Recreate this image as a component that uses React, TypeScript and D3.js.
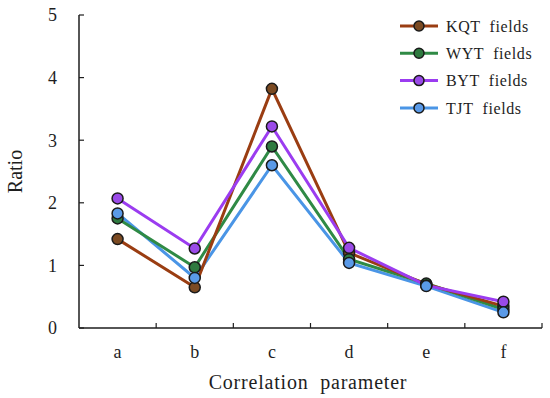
import * as d3 from "d3";
import { useRef, useEffect } from "react";

const categories = ["a", "b", "c", "d", "e", "f"];
const kqt = [1.42, 0.65, 3.82, 1.2, 0.7, 0.35];
const wyt = [1.75, 0.97, 2.9, 1.1, 0.71, 0.3];
const byt = [2.07, 1.27, 3.22, 1.28, 0.68, 0.42];
const tjt = [1.83, 0.8, 2.6, 1.04, 0.67, 0.25];
const yTicks = [0, 1, 2, 3, 4, 5];

const series = [
  { name: "KQT  fields", values: kqt, line: "#9a3d12", fill: "#7b4a22" },
  { name: "WYT  fields", values: wyt, line: "#2f8a45", fill: "#2f7a40" },
  { name: "BYT  fields", values: byt, line: "#9b3cf0", fill: "#9a4ae8" },
  { name: "TJT  fields", values: tjt, line: "#4a95e6", fill: "#5a9ae8" },
];

export default function App() {
  const svgRef = useRef<SVGSVGElement>(null);
  const width = 550;
  const height = 398;
  const marginLeft = 79;
  const marginRight = 8;
  const marginTop = 15;
  const marginBottom = 70;

  useEffect(() => {
    const svg = d3.select(svgRef.current);
    svg.selectAll("*").remove();

    const x = d3
      .scaleBand()
      .domain(categories)
      .range([marginLeft, width - marginRight]);
    const y = d3
      .scaleLinear()
      .domain([0, 5])
      .range([height - marginBottom, marginTop]);

    const font = "Liberation Serif";
    const ink = "#1e1e1e";

    // axes
    const gx = svg
      .append("g")
      .attr("transform", `translate(0,${height - marginBottom})`);
    gx.append("line")
      .attr("x1", marginLeft)
      .attr("x2", width - marginRight)
      .attr("stroke", ink)
      .attr("stroke-width", 1.5);
    const bounds = categories.map((c) => x(c)!).concat([width - marginRight]);
    gx.selectAll(".xt")
      .data(bounds.slice(1))
      .join("line")
      .attr("x1", (d) => d)
      .attr("x2", (d) => d)
      .attr("y1", 0)
      .attr("y2", -5)
      .attr("stroke", ink)
      .attr("stroke-width", 1.2);
    gx.selectAll(".xl")
      .data(categories)
      .join("text")
      .attr("x", (d) => x(d)! + x.bandwidth() / 2)
      .attr("y", 30)
      .attr("text-anchor", "middle")
      .attr("font-family", font)
      .attr("font-size", 18)
      .attr("fill", ink)
      .text((d) => d);

    const gy = svg.append("g").attr("transform", `translate(${marginLeft},0)`);
    gy.append("line")
      .attr("y1", y(0))
      .attr("y2", y(5))
      .attr("stroke", ink)
      .attr("stroke-width", 1.5);
    gy.selectAll(".yt")
      .data(yTicks)
      .join("line")
      .attr("y1", (d) => y(d))
      .attr("y2", (d) => y(d))
      .attr("x1", 0)
      .attr("x2", 5)
      .attr("stroke", ink)
      .attr("stroke-width", 1.2);
    gy.selectAll(".yl")
      .data(yTicks)
      .join("text")
      .attr("x", -22)
      .attr("y", (d) => y(d))
      .attr("dy", "0.35em")
      .attr("text-anchor", "end")
      .attr("font-family", font)
      .attr("font-size", 18)
      .attr("fill", ink)
      .text((d) => d);

    svg
      .append("text")
      .attr("transform", `translate(22,${(y(0) + y(5)) / 2}) rotate(-90)`)
      .attr("text-anchor", "middle")
      .attr("font-family", font)
      .attr("font-size", 20)
      .attr("fill", ink)
      .text("Ratio");

    svg
      .append("text")
      .attr("x", 308)
      .attr("y", 389)
      .attr("text-anchor", "middle")
      .attr("font-family", font)
      .attr("font-size", 20)
      .attr("letter-spacing", 0.8)
      .style("white-space", "pre")
      .attr("fill", ink)
      .text("Correlation  parameter");

    const cx = (i: number) => x(categories[i])! + x.bandwidth() / 2;
    const line = d3
      .line<number>()
      .x((_, i) => cx(i))
      .y((d) => y(d));

    // lines first, then markers
    const order = [3, 1, 0, 2];
    order.forEach((si) => {
      const s = series[si];
      svg
        .append("path")
        .datum(s.values)
        .attr("fill", "none")
        .attr("stroke", s.line)
        .attr("stroke-width", 3)
        .attr("d", line);
    });
    [0, 1, 2, 3].forEach((si) => {
      const s = series[si];
      svg
        .append("g")
        .selectAll("circle")
        .data(s.values)
        .join("circle")
        .attr("cx", (_, i) => cx(i))
        .attr("cy", (d) => y(d))
        .attr("r", 5.5)
        .attr("fill", s.fill)
        .attr("stroke", "#1a1a1a")
        .attr("stroke-width", 1.5);
    });

    // legend
    const lg = svg.append("g");
    series.forEach((s, i) => {
      const ly = 26 + i * 27.3;
      lg.append("line")
        .attr("x1", 400)
        .attr("x2", 438)
        .attr("y1", ly)
        .attr("y2", ly)
        .attr("stroke", s.line)
        .attr("stroke-width", 3);
      lg.append("circle")
        .attr("cx", 419)
        .attr("cy", ly)
        .attr("r", 5)
        .attr("fill", s.fill)
        .attr("stroke", "#1a1a1a")
        .attr("stroke-width", 1.5);
      lg.append("text")
        .attr("x", 446)
        .attr("y", ly)
        .attr("dy", "0.35em")
        .attr("font-family", font)
        .attr("font-size", 16)
        .attr("letter-spacing", 0.6)
        .style("white-space", "pre")
        .attr("fill", ink)
        .text(s.name);
    });
  }, []);

  return (
    <svg
      ref={svgRef}
      width={width}
      height={height}
      style={{ position: "absolute", left: 0, top: 0, background: "#fff" }}
    />
  );
}
